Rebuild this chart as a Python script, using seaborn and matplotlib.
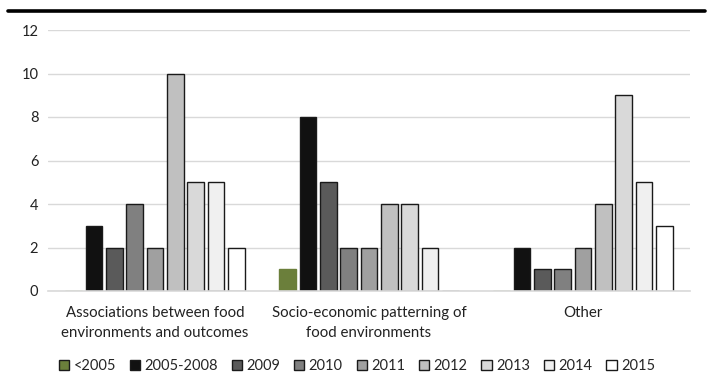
import pandas as pd
import matplotlib
matplotlib.use("Agg")
import matplotlib.pyplot as plt
from matplotlib.lines import Line2D
import seaborn as sns

categories = [
    "Associations between food\nenvironments and outcomes",
    "Socio-economic patterning of\nfood environments",
    "Other",
]
years = ["<2005", "2005-2008", "2009", "2010", "2011", "2012", "2013", "2014", "2015"]
values = {
    "<2005":     [0, 1, 0],
    "2005-2008": [3, 8, 2],
    "2009":      [2, 5, 1],
    "2010":      [4, 2, 1],
    "2011":      [2, 2, 2],
    "2012":      [10, 4, 4],
    "2013":      [5, 4, 9],
    "2014":      [5, 2, 5],
    "2015":      [2, 0, 3],
}
colors = ["#6b7f3b", "#111111", "#5a5a5a", "#808080", "#a0a0a0",
          "#c0c0c0", "#d9d9d9", "#f0f0f0", "#ffffff"]

rows = []
for y in years:
    for c, v in zip(categories, values[y]):
        rows.append({"Category": c, "Year": y, "Count": v})
df = pd.DataFrame(rows)

sns.set_style("white")
plt.rcParams["font.family"] = ["Lato", "DejaVu Sans"]

fig = plt.figure(figsize=(7.07, 3.81), dpi=100)
ax = fig.add_axes([48 / 707, 1 - 291 / 381, 642 / 707, 261 / 381])

sns.barplot(data=df, x="Category", y="Count", hue="Year", hue_order=years,
            palette=colors, width=0.855, gap=0.17, edgecolor="#1a1a1a",
            linewidth=1.0, saturation=1, ax=ax, legend=True)

# green bar has no outline
for p in ax.containers[0]:
    p.set_edgecolor(p.get_facecolor())

ax.set_ylim(0, 12)
ax.set_yticks(range(0, 13, 2))
ax.set_xlim(-0.5, 2.5)
ax.grid(axis="y", color="#d9d9d9", linewidth=1)
ax.set_axisbelow(True)
for s in ["top", "right", "left"]:
    ax.spines[s].set_visible(False)
ax.spines["bottom"].set_color("#d9d9d9")
ax.spines["bottom"].set_linewidth(1.2)
ax.set_xlabel("")
ax.set_ylabel("")
ax.tick_params(axis="y", length=0, labelsize=10.5, pad=7, colors="#222222")
ax.tick_params(axis="x", length=0, labelsize=10.8, pad=11, colors="#222222")
for t in ax.get_xticklabels():
    t.set_linespacing(1.55)

handles, labels = ax.get_legend_handles_labels()
ax.legend(handles, labels, loc="center", bbox_to_anchor=(357 / 707, 1 - 366 / 381),
          bbox_transform=fig.transFigure, ncol=9, frameon=False, fontsize=10.5,
          handlelength=0.7, handleheight=0.7, handletextpad=0.3, columnspacing=0.95)

fig.add_artist(Line2D([8 / 707, 705 / 707], [1 - 11 / 381, 1 - 11 / 381],
                      transform=fig.transFigure, color="black", linewidth=2.6))

fig.savefig("out.png", dpi=100)
